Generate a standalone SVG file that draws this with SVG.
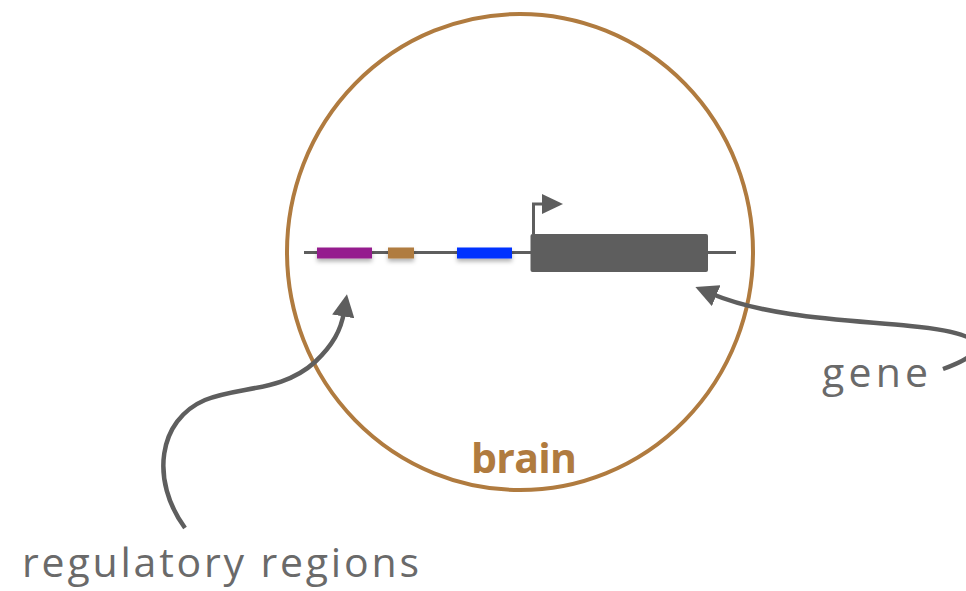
<svg xmlns="http://www.w3.org/2000/svg" width="966" height="591" viewBox="0 0 966 591">
<style>
.conn{fill:none;stroke:#5e5e5e;stroke-width:4.5;stroke-linecap:butt}
.lbl{font-family:"Open Sans","Liberation Sans",sans-serif;font-weight:400;fill:#6a6a6a;font-size:41px}
.brain{font-family:"Open Sans","Liberation Sans",sans-serif;font-weight:700;fill:#b07b3f;font-size:41px}
</style>
<defs>
<marker id="ah" viewBox="0 0 10 10" refX="2" refY="5" markerWidth="5" markerHeight="5" markerUnits="strokeWidth" orient="auto-start-reverse">
<path d="M0,0 L10,5 L0,10 z" fill="#5e5e5e"/>
</marker>
<filter id="sh" x="-20%" y="-50%" width="140%" height="250%">
<feDropShadow dx="0" dy="3" stdDeviation="2" flood-color="#000" flood-opacity="0.3"/>
</filter>
</defs>
<g id="cell">
<ellipse cx="520" cy="252" rx="233" ry="238" fill="none" stroke="#b07b3f" stroke-width="4"/>
<text class="brain" x="524" y="473" text-anchor="middle" textLength="106" lengthAdjust="spacing">brain</text>
</g>
<g id="dna">
<line x1="304" y1="252.5" x2="736" y2="252.5" stroke="#5e5e5e" stroke-width="3"/>
<rect x="317" y="247.5" width="55" height="11" fill="#951f8e" filter="url(#sh)"/>
<rect x="388" y="247.5" width="26" height="11" fill="#b07b3f" filter="url(#sh)"/>
<rect x="457" y="247.5" width="55" height="11" fill="#0033ff" filter="url(#sh)"/>
</g>
<g id="gene">
<rect x="530.5" y="234" width="177.5" height="38" rx="2" fill="#5e5e5e"/>
<path d="M533.5 234 V204 H545" fill="none" stroke="#5e5e5e" stroke-width="3"/>
<path d="M542 194 L563 204 L542 214 z" fill="#5e5e5e"/>
</g>
<g id="connectors">
<path class="conn" d="M943 369 C990 352 995 334 910 326 C850 320 770 318 712 294" marker-end="url(#ah)"/>
<path class="conn" d="M185 528 C150 480 158 420 205 400 C240 386 282 392 315 362 C333 345 341 330 344 312" marker-end="url(#ah)"/>
</g>
<g id="labels">
<text class="lbl" x="822" y="387" textLength="106" lengthAdjust="spacing">gene</text>
<text class="lbl" x="22" y="577" textLength="397" lengthAdjust="spacing">regulatory regions</text>
</g>
</svg>
